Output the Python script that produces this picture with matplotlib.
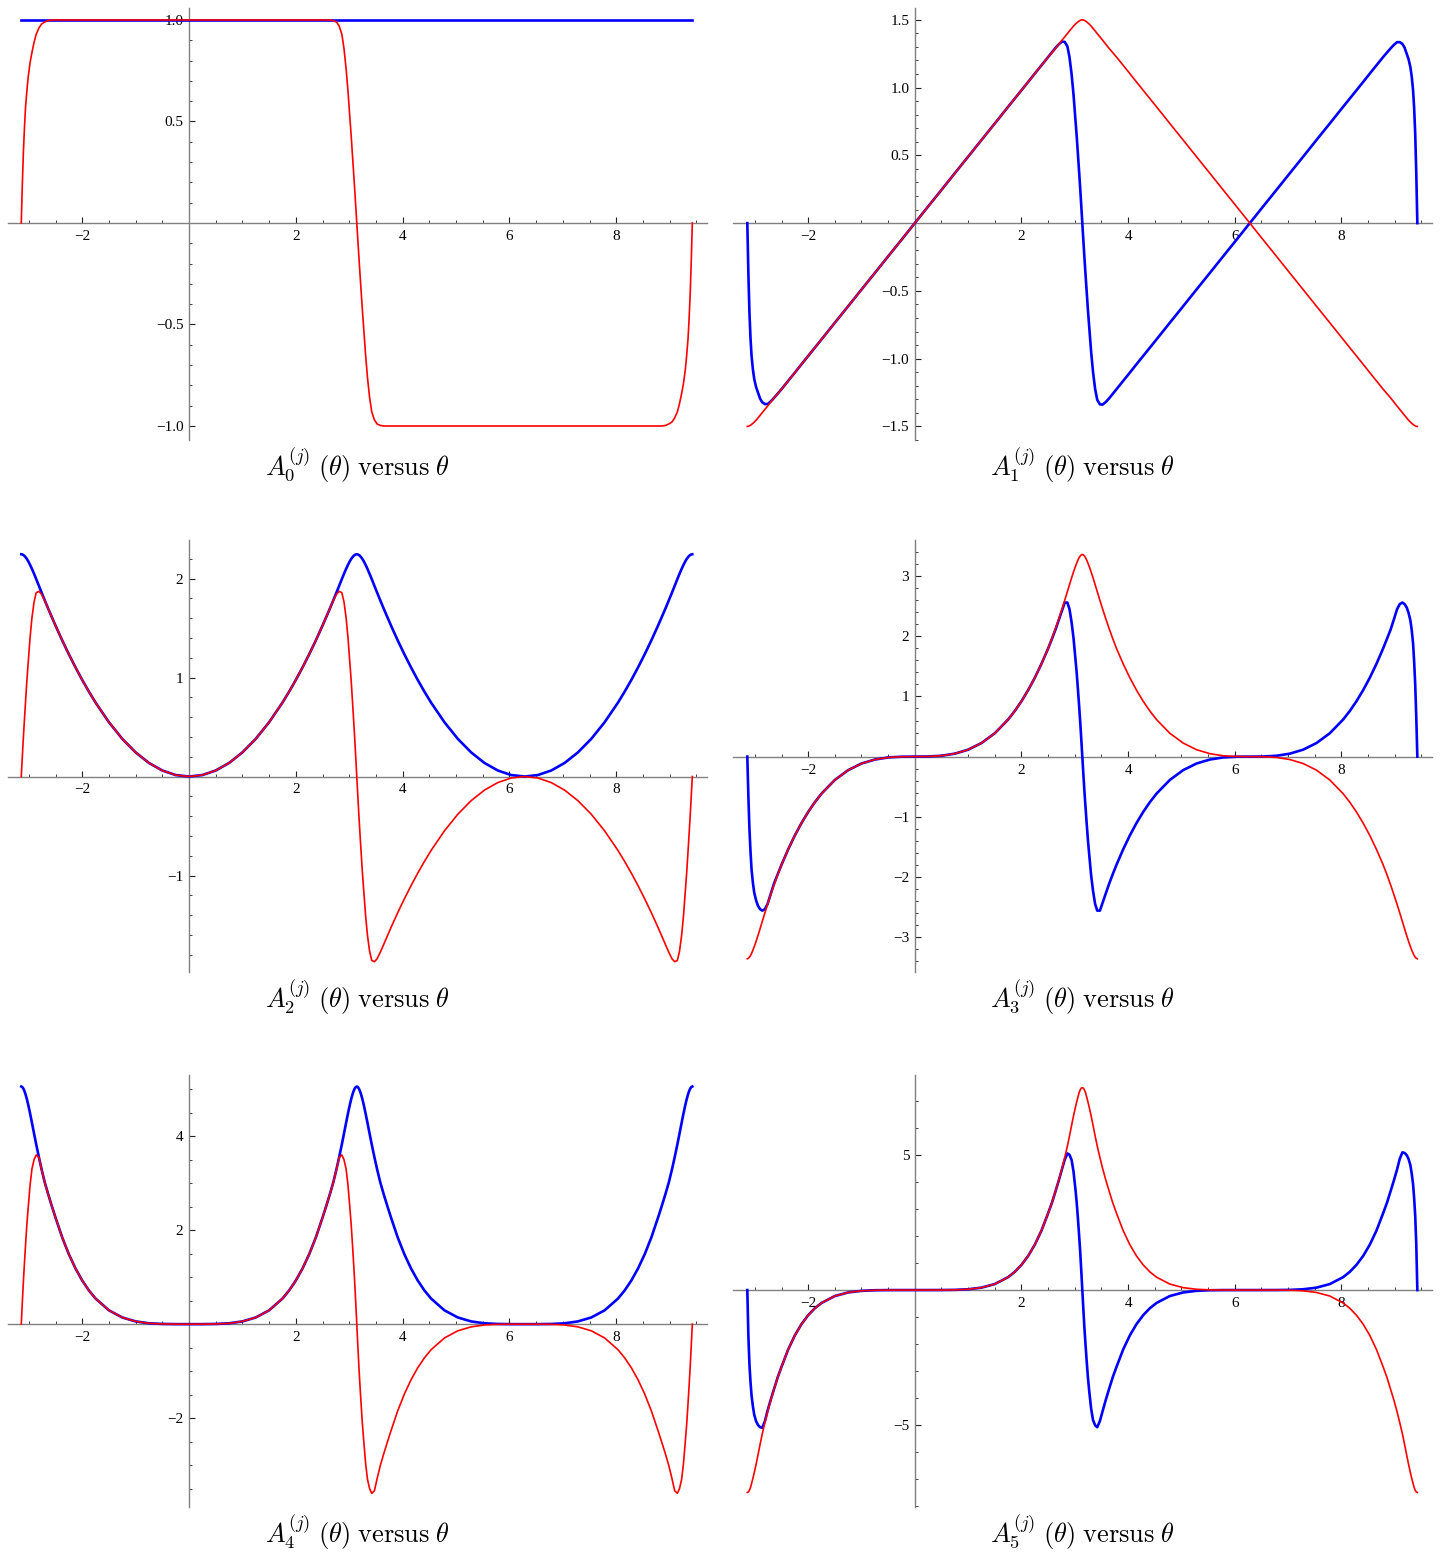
#!/usr/bin/env python

import numpy as np
import matplotlib
matplotlib.use("Agg")
import matplotlib.pyplot as plt

plt.rcParams["font.family"] = ["Liberation Serif", "DejaVu Serif"]
plt.rcParams["mathtext.fontset"] = "cm"

# sample points in theta (dense near the jumps at -pi, pi, 3pi)
theta = [-3.1416, -3.1216, -3.1016, -3.0816, -3.0616, -3.0366, -3.0116, -2.9766,
         -2.9416, -2.9016, -2.8616, -2.8116, -2.7616, -2.7016, -2.6416, -2.5716,
         -2.5, -2.375, -2.25, -2.125, -2.0, -1.875, -1.75, -1.5, -1.25,
         -1.0, -0.75, -0.5, -0.25, 0.0, 0.25, 0.5, 0.75, 1.0,
         1.25, 1.5, 1.75, 1.875, 2.0, 2.125, 2.25, 2.375, 2.5,
         2.5716, 2.6416, 2.7016, 2.7616, 2.8116, 2.8616, 2.9016, 2.9416,
         2.9766, 3.0116, 3.0366, 3.0616, 3.0816, 3.1016, 3.1216, 3.1416,
         3.1616, 3.1816, 3.2016, 3.2216, 3.2466, 3.2716, 3.3066, 3.3416,
         3.3816, 3.4216, 3.4716, 3.5216, 3.5816, 3.6416, 3.7116,
         3.783, 3.908, 4.033, 4.158, 4.283, 4.408, 4.533, 4.783, 5.033,
         5.283, 5.533, 5.783, 6.033, 6.283, 6.533, 6.783, 7.033, 7.283,
         7.533, 7.783, 8.033, 8.158, 8.283, 8.408, 8.533, 8.658, 8.783,
         8.855, 8.925, 8.985, 9.045, 9.095, 9.145, 9.185, 9.225,
         9.26, 9.295, 9.32, 9.345, 9.365, 9.385, 9.405, 9.425]

blue0_theta = [-3.1416, 9.425]
blue0 = [1.0, 1.0]
red0 = [0.0, 0.19, 0.35, 0.47, 0.57, 0.65, 0.72, 0.79, 0.84, 0.89, 0.93, 0.96, 0.98, 0.99, 0.997, 1.0,
        1.0, 1.0, 1.0, 1.0, 1.0, 1.0, 1.0, 1.0, 1.0,
        1.0, 1.0, 1.0, 1.0, 1.0, 1.0, 1.0, 1.0, 1.0,
        1.0, 1.0, 1.0, 1.0, 1.0, 1.0, 1.0, 1.0, 1.0,
        1.0, 1.0, 0.997, 0.99, 0.97, 0.93, 0.86, 0.76, 0.65, 0.52, 0.43, 0.33, 0.25, 0.17, 0.085, 0.0,
        -0.085, -0.17, -0.25, -0.33, -0.43, -0.52, -0.65, -0.76, -0.86, -0.93, -0.97, -0.99, -0.997, -1.0, -1.0,
        -1.0, -1.0, -1.0, -1.0, -1.0, -1.0, -1.0, -1.0, -1.0,
        -1.0, -1.0, -1.0, -1.0, -1.0, -1.0, -1.0, -1.0, -1.0,
        -1.0, -1.0, -1.0, -1.0, -1.0, -1.0, -1.0, -1.0, -1.0,
        -1.0, -0.997, -0.99, -0.98, -0.96, -0.93, -0.89, -0.84, -0.79, -0.72, -0.65, -0.57, -0.47, -0.35, -0.19, 0.0]

blue1 = [0.0, -0.37, -0.66, -0.85, -0.98, -1.08, -1.15, -1.21, -1.25, -1.295, -1.322, -1.335, -1.335, -1.315, -1.29, -1.258,
         -1.225, -1.164, -1.103, -1.041, -0.98, -0.919, -0.858, -0.735, -0.613,
         -0.49, -0.368, -0.245, -0.123, 0.0, 0.123, 0.245, 0.368, 0.49,
         0.613, 0.735, 0.858, 0.919, 0.98, 1.041, 1.103, 1.164, 1.225,
         1.26, 1.294, 1.32, 1.339, 1.337, 1.304, 1.223, 1.095, 0.948, 0.768, 0.64, 0.495, 0.378, 0.258, 0.13, 0.0,
         -0.13, -0.258, -0.378, -0.495, -0.64, -0.768, -0.948, -1.095, -1.223, -1.304, -1.337, -1.339, -1.32, -1.294, -1.26,
         -1.225, -1.164, -1.103, -1.041, -0.98, -0.919, -0.858, -0.735, -0.613,
         -0.49, -0.368, -0.245, -0.123, 0.0, 0.123, 0.245, 0.368, 0.49,
         0.613, 0.735, 0.858, 0.919, 0.98, 1.041, 1.103, 1.164, 1.225,
         1.258, 1.29, 1.315, 1.335, 1.335, 1.322, 1.295, 1.25, 1.21, 1.15, 1.08, 0.98, 0.85, 0.66, 0.37, 0.0]
red1 = [-1.50, -1.499, -1.495, -1.491, -1.485, -1.477, -1.468, -1.454, -1.437, -1.418, -1.398, -1.374, -1.35, -1.32, -1.29, -1.258,
        -1.225, -1.164, -1.103, -1.041, -0.98, -0.919, -0.858, -0.735, -0.613,
        -0.49, -0.368, -0.245, -0.123, 0.0, 0.123, 0.245, 0.368, 0.49,
        0.613, 0.735, 0.858, 0.919, 0.98, 1.041, 1.103, 1.164, 1.225,
        1.258, 1.29, 1.32, 1.35, 1.374, 1.398, 1.418, 1.437, 1.454, 1.468, 1.477, 1.485, 1.491, 1.495, 1.499, 1.50,
        1.499, 1.495, 1.491, 1.485, 1.477, 1.468, 1.454, 1.437, 1.418, 1.398, 1.374, 1.35, 1.32, 1.29, 1.258,
        1.225, 1.164, 1.103, 1.041, 0.98, 0.919, 0.858, 0.735, 0.613,
        0.49, 0.368, 0.245, 0.123, 0.0, -0.123, -0.245, -0.368, -0.49,
        -0.613, -0.735, -0.858, -0.919, -0.98, -1.041, -1.103, -1.164, -1.225,
        -1.258, -1.29, -1.32, -1.35, -1.374, -1.398, -1.418, -1.437, -1.454, -1.468, -1.477, -1.485, -1.491, -1.495, -1.499, -1.50]

blue2 = [2.246, 2.244, 2.238, 2.229, 2.217, 2.198, 2.176, 2.139, 2.098, 2.048, 1.995, 1.927, 1.86, 1.78, 1.702, 1.614,
         1.525, 1.376, 1.235, 1.102, 0.976, 0.858, 0.747, 0.549, 0.381,
         0.244, 0.137, 0.061, 0.015, 0.0, 0.015, 0.061, 0.137, 0.244,
         0.381, 0.549, 0.747, 0.858, 0.976, 1.102, 1.235, 1.376, 1.525,
         1.614, 1.702, 1.78, 1.86, 1.927, 1.995, 2.048, 2.098, 2.139, 2.176, 2.198, 2.217, 2.229, 2.238, 2.244, 2.246,
         2.244, 2.238, 2.229, 2.217, 2.198, 2.176, 2.139, 2.098, 2.048, 1.995, 1.927, 1.86, 1.78, 1.702, 1.614,
         1.525, 1.376, 1.235, 1.102, 0.976, 0.858, 0.747, 0.549, 0.381,
         0.244, 0.137, 0.061, 0.015, 0.0, 0.015, 0.061, 0.137, 0.244,
         0.381, 0.549, 0.747, 0.858, 0.976, 1.102, 1.235, 1.376, 1.525,
         1.614, 1.702, 1.78, 1.86, 1.927, 1.995, 2.048, 2.098, 2.139, 2.176, 2.198, 2.217, 2.229, 2.238, 2.244, 2.246]
red2 = [0.0, 0.202, 0.399, 0.579, 0.755, 0.968, 1.151, 1.405, 1.604, 1.766, 1.858, 1.871, 1.842, 1.776, 1.702, 1.614,
        1.525, 1.376, 1.235, 1.102, 0.976, 0.858, 0.747, 0.549, 0.381,
        0.244, 0.137, 0.061, 0.015, 0.0, 0.015, 0.061, 0.137, 0.244,
        0.381, 0.549, 0.747, 0.858, 0.976, 1.102, 1.235, 1.376, 1.525,
        1.614, 1.702, 1.776, 1.842, 1.871, 1.858, 1.766, 1.604, 1.405, 1.151, 0.968, 0.755, 0.579, 0.399, 0.202, 0.0,
        -0.202, -0.399, -0.579, -0.755, -0.968, -1.151, -1.405, -1.604, -1.766, -1.858, -1.871, -1.842, -1.776, -1.702, -1.614,
        -1.525, -1.376, -1.235, -1.102, -0.976, -0.858, -0.747, -0.549, -0.381,
        -0.244, -0.137, -0.061, -0.015, 0.0, -0.015, -0.061, -0.137, -0.244,
        -0.381, -0.549, -0.747, -0.858, -0.976, -1.102, -1.235, -1.376, -1.525,
        -1.614, -1.702, -1.776, -1.842, -1.871, -1.858, -1.766, -1.604, -1.405, -1.151, -0.968, -0.755, -0.579, -0.399, -0.202, 0.0]

blue3 = [0.0, -0.66, -1.201, -1.58, -1.881, -2.10, -2.262, -2.39, -2.48, -2.535, -2.56, -2.535, -2.45, -2.28, -2.114, -1.956,
         -1.797, -1.541, -1.31, -1.104, -0.92, -0.758, -0.616, -0.388, -0.225,
         -0.115, -0.049, -0.014, -0.002, 0.0, 0.002, 0.014, 0.049, 0.115,
         0.225, 0.388, 0.616, 0.758, 0.92, 1.104, 1.31, 1.541, 1.797,
         1.956, 2.12, 2.275, 2.43, 2.56, 2.56, 2.45, 2.225, 1.971, 1.633, 1.385, 1.089, 0.841, 0.583, 0.297, 0.0,
         -0.297, -0.583, -0.841, -1.089, -1.385, -1.633, -1.971, -2.225, -2.45, -2.56, -2.56, -2.43, -2.275, -2.12, -1.956,
         -1.797, -1.541, -1.31, -1.104, -0.92, -0.758, -0.616, -0.388, -0.225,
         -0.115, -0.049, -0.014, -0.002, 0.0, 0.002, 0.014, 0.049, 0.115,
         0.225, 0.388, 0.616, 0.758, 0.92, 1.104, 1.31, 1.541, 1.797,
         1.956, 2.114, 2.28, 2.45, 2.535, 2.56, 2.535, 2.48, 2.39, 2.262, 2.10, 1.881, 1.58, 1.201, 0.66, 0.0]
red3 = [-3.36, -3.352, -3.334, -3.306, -3.27, -3.217, -3.159, -3.07, -2.974, -2.859, -2.742, -2.597, -2.455, -2.292, -2.136, -1.962,
        -1.797, -1.541, -1.31, -1.104, -0.92, -0.758, -0.616, -0.388, -0.225,
        -0.115, -0.049, -0.014, -0.002, 0.0, 0.002, 0.014, 0.049, 0.115,
        0.225, 0.388, 0.616, 0.758, 0.92, 1.104, 1.31, 1.541, 1.797,
        1.962, 2.136, 2.292, 2.455, 2.597, 2.742, 2.859, 2.974, 3.07, 3.159, 3.217, 3.27, 3.306, 3.334, 3.352, 3.36,
        3.352, 3.334, 3.306, 3.27, 3.217, 3.159, 3.07, 2.974, 2.859, 2.742, 2.597, 2.455, 2.292, 2.136, 1.962,
        1.797, 1.541, 1.31, 1.104, 0.92, 0.758, 0.616, 0.388, 0.225,
        0.115, 0.049, 0.014, 0.002, 0.0, -0.002, -0.014, -0.049, -0.115,
        -0.225, -0.388, -0.616, -0.758, -0.92, -1.104, -1.31, -1.541, -1.797,
        -1.962, -2.136, -2.292, -2.455, -2.597, -2.742, -2.859, -2.974, -3.07, -3.159, -3.217, -3.27, -3.306, -3.334, -3.352, -3.36]

blue4 = [5.055, 5.043, 5.009, 4.957, 4.889, 4.787, 4.668, 4.482, 4.284, 4.052, 3.824, 3.552, 3.297, 3.015, 2.78, 2.52,
         2.266, 1.845, 1.486, 1.183, 0.928, 0.717, 0.544, 0.294, 0.142,
         0.058, 0.018, 0.004, 0.0, 0.0, 0.0, 0.004, 0.018, 0.058,
         0.142, 0.294, 0.544, 0.717, 0.928, 1.183, 1.486, 1.845, 2.266,
         2.52, 2.78, 3.015, 3.297, 3.552, 3.824, 4.052, 4.284, 4.482, 4.668, 4.787, 4.889, 4.957, 5.009, 5.043, 5.055,
         5.043, 5.009, 4.957, 4.889, 4.787, 4.668, 4.482, 4.284, 4.052, 3.824, 3.552, 3.297, 3.015, 2.78, 2.52,
         2.266, 1.845, 1.486, 1.183, 0.928, 0.717, 0.544, 0.294, 0.142,
         0.058, 0.018, 0.004, 0.0, 0.0, 0.0, 0.004, 0.018, 0.058,
         0.142, 0.294, 0.544, 0.717, 0.928, 1.183, 1.486, 1.845, 2.266,
         2.52, 2.78, 3.015, 3.297, 3.552, 3.824, 4.052, 4.284, 4.482, 4.668, 4.787, 4.889, 4.957, 5.009, 5.043, 5.055]
red4 = [0.0, 0.468, 0.912, 1.308, 1.682, 2.121, 2.481, 2.959, 3.301, 3.50, 3.60, 3.545, 3.29, 3.01, 2.775, 2.52,
        2.266, 1.845, 1.486, 1.183, 0.928, 0.717, 0.544, 0.294, 0.142,
        0.058, 0.018, 0.004, 0.0, 0.0, 0.0, 0.004, 0.018, 0.058,
        0.142, 0.294, 0.544, 0.717, 0.928, 1.183, 1.486, 1.845, 2.266,
        2.52, 2.775, 3.01, 3.29, 3.545, 3.60, 3.50, 3.301, 2.959, 2.481, 2.121, 1.682, 1.308, 0.912, 0.468, 0.0,
        -0.468, -0.912, -1.308, -1.682, -2.121, -2.481, -2.959, -3.301, -3.50, -3.60, -3.545, -3.29, -3.01, -2.775, -2.52,
        -2.266, -1.845, -1.486, -1.183, -0.928, -0.717, -0.544, -0.294, -0.142,
        -0.058, -0.018, -0.004, 0.0, 0.0, 0.0, -0.004, -0.018, -0.058,
        -0.142, -0.294, -0.544, -0.717, -0.928, -1.183, -1.486, -1.845, -2.266,
        -2.52, -2.775, -3.01, -3.29, -3.545, -3.60, -3.50, -3.301, -2.959, -2.481, -2.121, -1.682, -1.308, -0.912, -0.468, 0.0]

blue5 = [0.0, -1.7, -2.75, -3.4, -3.91, -4.3, -4.61, -4.85, -4.99, -5.07, -5.09, -4.85, -4.46, -4.05, -3.667, -3.225,
         -2.838, -2.196, -1.676, -1.259, -0.93, -0.673, -0.477, -0.221, -0.089,
         -0.029, -0.007, -0.001, 0.0, 0.0, 0.0, 0.001, 0.007, 0.029,
         0.089, 0.221, 0.477, 0.673, 0.93, 1.259, 1.676, 2.196, 2.838,
         3.225, 3.67, 4.06, 4.48, 4.82, 5.05, 5.0, 4.8, 4.38, 3.743, 3.226, 2.58, 2.019, 1.418, 0.732, 0.0,
         -0.732, -1.418, -2.019, -2.58, -3.226, -3.743, -4.38, -4.8, -5.0, -5.07, -4.84, -4.48, -4.06, -3.67, -3.225,
         -2.838, -2.196, -1.676, -1.259, -0.93, -0.673, -0.477, -0.221, -0.089,
         -0.029, -0.007, -0.001, 0.0, 0.0, 0.0, 0.001, 0.007, 0.029,
         0.089, 0.221, 0.477, 0.673, 0.93, 1.259, 1.676, 2.196, 2.838,
         3.225, 3.667, 4.05, 4.46, 4.85, 5.09, 5.07, 4.99, 4.85, 4.61, 4.3, 3.91, 3.4, 2.75, 1.7, 0.0]
red5 = [-7.48, -7.465, -7.40, -7.30, -7.15, -6.96, -6.75, -6.44, -6.10, -5.70, -5.32, -4.90, -4.50, -4.07, -3.678, -3.23,
        -2.838, -2.196, -1.676, -1.259, -0.93, -0.673, -0.477, -0.221, -0.089,
        -0.029, -0.007, -0.001, 0.0, 0.0, 0.0, 0.001, 0.007, 0.029,
        0.089, 0.221, 0.477, 0.673, 0.93, 1.259, 1.676, 2.196, 2.838,
        3.23, 3.678, 4.07, 4.50, 4.90, 5.32, 5.70, 6.10, 6.44, 6.75, 6.96, 7.15, 7.30, 7.40, 7.465, 7.48,
        7.465, 7.40, 7.30, 7.15, 6.96, 6.75, 6.44, 6.10, 5.70, 5.32, 4.90, 4.50, 4.07, 3.678, 3.23,
        2.838, 2.196, 1.676, 1.259, 0.93, 0.673, 0.477, 0.221, 0.089,
        0.029, 0.007, 0.001, 0.0, 0.0, 0.0, -0.001, -0.007, -0.029,
        -0.089, -0.221, -0.477, -0.673, -0.93, -1.259, -1.676, -2.196, -2.838,
        -3.23, -3.678, -4.07, -4.50, -4.90, -5.32, -5.70, -6.10, -6.44, -6.75, -6.96, -7.15, -7.30, -7.40, -7.465, -7.48]

x_major = [-2, 2, 4, 6, 8]
x_labels = ["\u22122", "2", "4", "6", "8"]

y_major = [[-1.0, -0.5, 0.5, 1.0],
           [-1.5, -1.0, -0.5, 0.5, 1.0, 1.5],
           [-1, 1, 2],
           [-3, -2, -1, 1, 2, 3],
           [-2, 2, 4],
           [-5, 5]]
y_labels = [["\u22121.0", "\u22120.5", "0.5", "1.0"],
            ["\u22121.5", "\u22121.0", "\u22120.5", "0.5", "1.0", "1.5"],
            ["\u22121", "1", "2"],
            ["\u22123", "\u22122", "\u22121", "1", "2", "3"],
            ["\u22122", "2", "4"],
            ["\u22125", "5"]]


def mma_axes(ax, xlim, ylim, yticks, ylabels, ystep):

    ax.set_xlim(*xlim)
    ax.set_ylim(*ylim)
    ax.patch.set_alpha(0)

    for a in ["top", "right"]:
        ax.spines[a].set_visible(False)
    for a in ["left", "bottom"]:
        ax.spines[a].set_position(("data", 0))
        ax.spines[a].set_color("#808080")
        ax.spines[a].set_linewidth(1.0)

    ax.set_xticks(x_major)
    ax.set_xticklabels(x_labels)
    ax.set_xticks(np.arange(-3, 9.6, 0.5), minor = True)

    ax.set_yticks(yticks)
    ax.set_yticklabels(ylabels)
    lo = np.ceil(ylim[0] / ystep) * ystep
    ax.set_yticks(np.arange(lo, ylim[1], ystep), minor = True)

    ax.tick_params(which = "major", direction = "in", length = 4, width = 0.8,
                   color = "#222222", labelsize = 11, pad = 5)
    ax.tick_params(which = "minor", direction = "in", length = 2.3, width = 0.6,
                   color = "#222222")
    ax.tick_params(axis = "y", pad = 4)

    return ax


if __name__ == "__main__":

    fig = plt.figure(figsize = (14.45, 15.54), dpi = 100)
    W, H = 1445., 1554.

    cols = [(8, -3.39, 9.70), (733, -3.41, 9.70)]
    rows = [8, 540, 1075]
    ylims = [(-1.069, 1.059), (-1.60, 1.587), (-1.975, 2.39),
             (-3.58, 3.60), (-3.89, 5.30), (-8.02, 7.95)]
    ysteps = [0.1, 0.1, 0.2, 0.2, 0.5, 1.0]

    blues = [blue0, blue1, blue2, blue3, blue4, blue5]
    reds = [red0, red1, red2, red3, red4, red5]

    for k in range(6):

        r, c = k // 2, k % 2
        x0, xa, xb = cols[c]
        y0 = rows[r]
        ax = fig.add_axes([x0 / W, 1 - (y0 + 432) / H, 699 / W, 432 / H])

        bx = blue0_theta if k == 0 else theta
        ax.plot(bx, blues[k], color = "#0000ff", lw = 1.9, zorder = 3)
        ax.plot(theta, reds[k], color = "#ff0000", lw = 1.2, zorder = 4)

        mma_axes(ax, (xa, xb), ylims[k], y_major[k], y_labels[k], ysteps[k])

        fig.text((x0 + 349.5) / W, 1 - (y0 + 457) / H,
                 r"$A_{%d}^{(j)}\;(\theta)\;\mathrm{versus}\;\theta$" % k,
                 ha = "center", va = "center", fontsize = 19)

    fig.savefig("out.png", dpi = 100, facecolor = "w")
